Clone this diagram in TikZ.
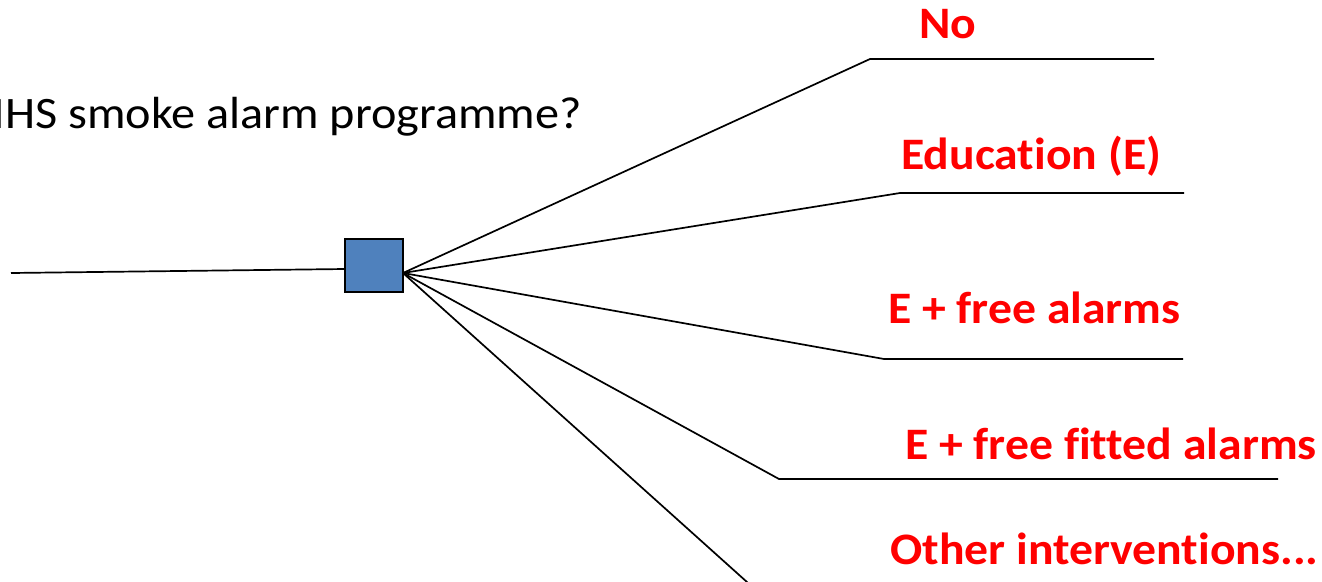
\documentclass[tikz,border=0pt]{standalone}
\usepackage{fontspec}
\setmainfont{Carlito}[Ligatures=NoCommon]
\newcommand{\wide}[1]{\scalebox{1.06}[1]{#1}}
\newcommand{\wider}[1]{\scalebox{1.072}[1]{#1}}
\begin{document}
\begin{tikzpicture}[x=1pt,y=-1pt,
  branch/.style={black,line width=1.7pt},
  option/.style={anchor=base west,inner sep=0pt,text=red,
    font=\fontsize{45}{54}\selectfont\bfseries},
  decision/.style={draw=black,line width=1.4pt,fill=decblue,
    minimum width=58pt,minimum height=53pt,inner sep=0pt}]
\definecolor{decblue}{HTML}{4F81BD}
\useasboundingbox (0,0) rectangle (1322,581);
\clip (0,0) rectangle (1322,581);

% question
\node[anchor=base east,inner sep=0pt,font=\fontsize{45}{54}\selectfont]
  (q) at (582,128) {\wider{NHS smoke alarm programme?}};

% decision node
\node[decision] (dec) at (374,265.5) {};
\coordinate (root) at (11,273);
\coordinate (din) at (345,269);
\coordinate (dout) at (403,273);
\draw[branch] (root) -- (din);

% branch bends and ends
\coordinate (b1) at (870,59);   \coordinate (e1) at (1154,59);
\coordinate (b2) at (900,193);  \coordinate (e2) at (1184,193);
\coordinate (b3) at (884,359);  \coordinate (e3) at (1183,359);
\coordinate (b4) at (779,479);  \coordinate (e4) at (1278,479);
\coordinate (b5) at (767,600);

\draw[branch] (dout) -- (b1) -- (e1);
\draw[branch] (dout) -- (b2) -- (e2);
\draw[branch] (dout) -- (b3) -- (e3);
\draw[branch] (dout) -- (b4) -- (e4);
\draw[branch] (dout) -- (b5);

% option labels
\node[option] (o1) at (919,38) {\wide{No}};
\node[option] (o2) at (901,169) {\wide{Education (E)}};
\node[option] (o3) at (888,323) {\wide{E + free alarms}};
\node[option] (o4) at (905,459) {\wide{E + free fitted alarms}};
\node[option] (o5) at (890,564) {\wide{Other interventions...}};
\end{tikzpicture}
\end{document}
